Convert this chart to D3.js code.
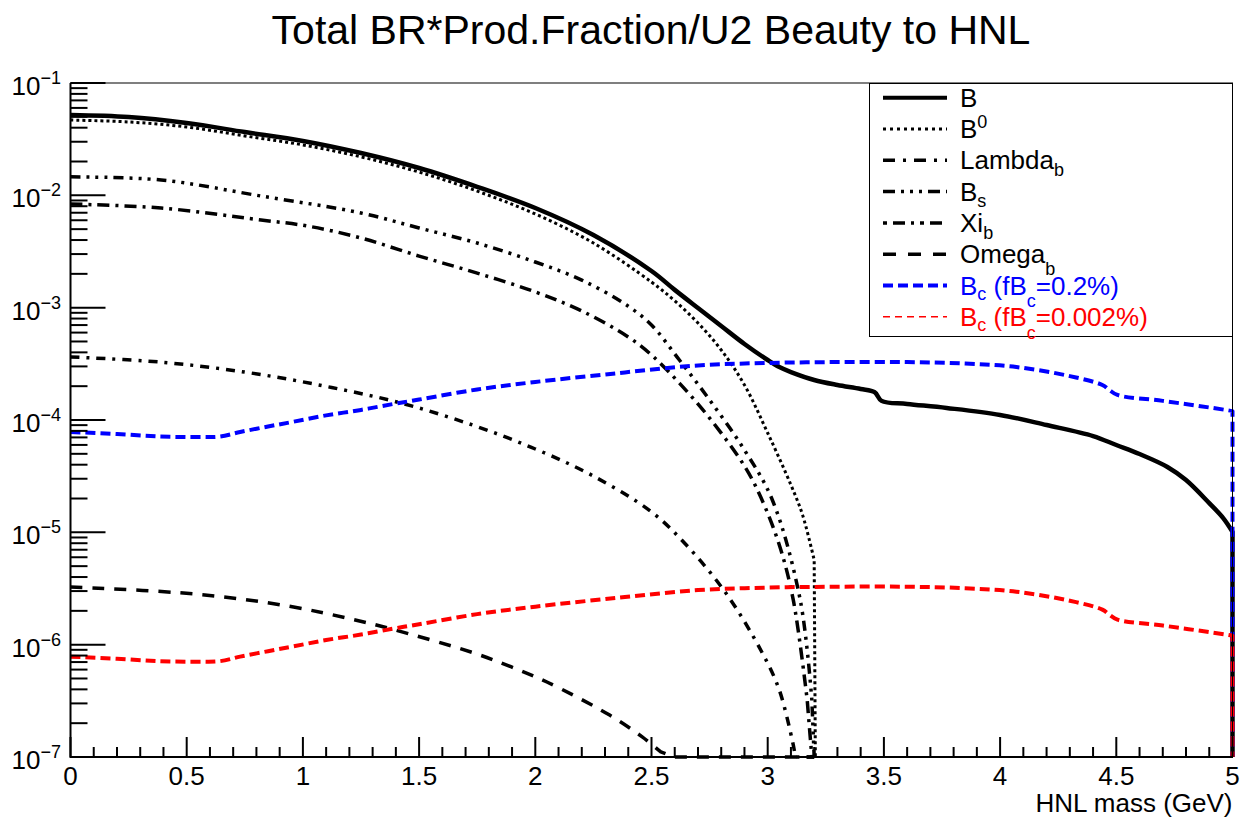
<!DOCTYPE html>
<html>
<head>
<meta charset="utf-8">
<script src="https://cdn.jsdelivr.net/npm/d3@7"></script>
<style>
  body { margin: 0; background: #fff; }
  svg { display: block; }
  text { font-family: "Liberation Sans", Arial, Helvetica, sans-serif; }
</style>
</head>
<body>
<svg id="chart" width="1254" height="823"></svg>
<script>
// HNL mass grid (GeV) and BR*production fraction/U^2 for each beauty hadron
const massB = [0, 0.25, 0.5, 0.75, 1.0, 1.25, 1.5, 1.75, 2.0, 2.25, 2.5, 2.6, 2.7, 2.8, 2.9, 3.0, 3.05, 3.1, 3.2, 3.3, 3.4, 3.46, 3.49, 3.6, 3.77, 4.0, 4.2, 4.4, 4.5, 4.6, 4.72, 4.8, 4.9, 4.96, 5.0, 5.0];
const brB   = [5.19e-2, 4.98e-2, 4.40e-2, 3.66e-2, 3.05e-2, 2.38e-2, 1.75e-2, 1.19e-2, 7.71e-3, 4.43e-3, 2.12e-3, 1.44e-3, 9.93e-4, 6.87e-4, 4.75e-4, 3.42e-4, 2.96e-4, 2.67e-4, 2.27e-4, 2.05e-4, 1.89e-4, 1.77e-4, 1.48e-4, 1.39e-4, 1.28e-4, 1.11e-4, 9.02e-5, 7.20e-5, 5.99e-5, 4.98e-5, 3.82e-5, 2.92e-5, 1.82e-5, 1.34e-5, 1.01e-5, 1e-9];

const massB0 = [0, 0.25, 0.5, 0.75, 1.0, 1.25, 1.5, 1.75, 2.0, 2.25, 2.5, 2.6, 2.7, 2.8, 2.9, 3.0, 3.1, 3.15, 3.2, 3.205];
const brB0   = [4.68e-2, 4.50e-2, 4.06e-2, 3.38e-2, 2.81e-2, 2.20e-2, 1.61e-2, 1.09e-2, 6.82e-3, 3.76e-3, 1.69e-3, 1.15e-3, 7.30e-4, 4.20e-4, 2.05e-4, 7.66e-5, 2.64e-5, 1.43e-5, 5.67e-6, 1e-9];

const massLambdab = [0, 0.39, 0.82, 1.02, 1.25, 1.5, 1.75, 2.0, 2.2, 2.4, 2.5, 2.62, 2.75, 2.9, 2.97, 3.05, 3.11, 3.17, 3.19];
const brLambdab   = [8.37e-3, 7.71e-3, 6.03e-3, 5.33e-3, 4.17e-3, 2.88e-3, 2.03e-3, 1.38e-3, 9.34e-4, 5.48e-4, 3.79e-4, 2.13e-4, 1.04e-4, 3.89e-5, 2.06e-5, 7.71e-6, 2.50e-6, 3.21e-7, 1e-9];

const massBs = [0, 0.39, 0.82, 1.25, 1.5, 1.75, 2.0, 2.2, 2.4, 2.5, 2.62, 2.75, 2.9, 3.02, 3.14, 3.19, 3.2];
const brBs   = [1.46e-2, 1.37e-2, 9.86e-3, 6.96e-3, 5.12e-3, 3.76e-3, 2.55e-3, 1.76e-3, 1.03e-3, 7.01e-4, 3.42e-4, 1.51e-4, 5.40e-5, 1.94e-5, 2.50e-6, 3.21e-7, 1e-9];

const massXib = [0, 0.385, 0.75, 1.09, 1.42, 1.73, 2.0, 2.25, 2.5, 2.65, 2.82, 2.97, 3.05, 3.11, 3.12, 3.2];
const brXib   = [3.64e-4, 3.28e-4, 2.67e-4, 2.01e-4, 1.42e-4, 9.02e-5, 5.52e-5, 3.17e-5, 1.52e-5, 7.71e-6, 2.88e-6, 8.96e-7, 3.95e-7, 1.28e-7, 1e-9, 1e-9];

const massOmegab = [0, 0.54, 0.935, 1.213, 1.386, 1.732, 1.895, 2.05, 2.32, 2.46, 2.54, 2.6, 3.2];
const brOmegab   = [3.26e-6, 2.82e-6, 2.21e-6, 1.68e-6, 1.37e-6, 8.48e-7, 6.36e-7, 4.65e-7, 2.36e-7, 1.51e-7, 1.11e-7, 8e-8, 1e-9];

const massBc = [0, 0.2, 0.385, 0.55, 0.643, 0.73, 0.85, 0.96, 1.1, 1.25, 1.39, 1.5, 1.75, 2.0, 2.36, 2.7, 3.0, 3.3, 3.6, 3.85, 4.07, 4.3, 4.44, 4.47, 4.505, 4.7, 4.97, 5.0, 5.0];
const brBcHigh = [7.82e-5, 7.50e-5, 7.13e-5, 7.06e-5, 7.13e-5, 7.82e-5, 8.75e-5, 9.66e-5, 1.10e-4, 1.23e-4, 1.39e-4, 1.52e-4, 1.87e-4, 2.18e-4, 2.62e-4, 3.06e-4, 3.22e-4, 3.28e-4, 3.28e-4, 3.18e-4, 2.96e-4, 2.46e-4, 2.05e-4, 1.85e-4, 1.67e-4, 1.48e-4, 1.23e-4, 1.20e-4, 1e-9];
const brBcLow  = [7.82e-7, 7.50e-7, 7.13e-7, 7.06e-7, 7.13e-7, 7.82e-7, 8.75e-7, 9.66e-7, 1.10e-6, 1.23e-6, 1.39e-6, 1.52e-6, 1.87e-6, 2.18e-6, 2.62e-6, 3.06e-6, 3.22e-6, 3.28e-6, 3.28e-6, 3.18e-6, 2.96e-6, 2.46e-6, 2.05e-6, 1.85e-6, 1.67e-6, 1.48e-6, 1.23e-6, 1.20e-6, 1e-11];

// Axis ticks and labels
const xTickValues = [0, 0.5, 1, 1.5, 2, 2.5, 3, 3.5, 4, 4.5, 5];
const xTickLabels = ["0", "0.5", "1", "1.5", "2", "2.5", "3", "3.5", "4", "4.5", "5"];
const yDecadeExps = [-1, -2, -3, -4, -5, -6, -7];
const yExpLabels  = ["\u22121", "\u22122", "\u22123", "\u22124", "\u22125", "\u22126", "\u22127"];

const titleText = "Total BR*Prod.Fraction/U2 Beauty to HNL";
const xAxisTitle = "HNL mass (GeV)";

// Frame geometry
const L = 70.5, R = 1232.5, T = 83, B = 757;
const yMin = 1e-7, yMax = 1e-1;

const svg = d3.select("#chart");
const x = d3.scaleLinear().domain([0, 5]).range([L, R]);
const y = d3.scaleLog().domain([yMin, yMax]).range([B, T]).clamp(true);

svg.append("rect").attr("width", 1254).attr("height", 823).attr("fill", "#fff");

// Title
svg.append("text")
  .attr("x", 651).attr("y", 44)
  .attr("text-anchor", "middle")
  .attr("font-size", 41)
  .text(titleText);

// Curves
const series = [
  { m: massB,       v: brB,       color: "#000", w: 4.5, dash: null },
  { m: massB0,      v: brB0,      color: "#000", w: 3,   dash: "3 3" },
  { m: massLambdab, v: brLambdab, color: "#000", w: 3.5, dash: "12 6 3 6" },
  { m: massBs,      v: brBs,      color: "#000", w: 3.5, dash: "10 6 3 6 3 6 3 6" },
  { m: massXib,     v: brXib,     color: "#000", w: 3.5, dash: "9 7 3 7" },
  { m: massOmegab,  v: brOmegab,  color: "#000", w: 3.5, dash: "12 10" },
  { m: massBc,      v: brBcHigh,  color: "#0000ff", w: 4, dash: "10 5" },
  { m: massBc,      v: brBcLow,   color: "#ff0000", w: 4, dash: "10 5" }
];

svg.append("clipPath").attr("id", "frameClip")
  .append("rect").attr("x", L - 2).attr("y", T).attr("width", R - L + 6).attr("height", B - T + 3);

const smooth = d3.line()
  .x(d => x(d[0]))
  .y(d => y(d[1]))
  .curve(d3.curveCatmullRom.alpha(0.5));

// Smooth through the visible part; points under the axis floor are joined straight
function curvePath(pts) {
  let cut = pts.findIndex(p => p[1] < yMin);
  if (cut < 0) cut = pts.length;
  let d = smooth(pts.slice(0, cut));
  for (let i = cut; i < pts.length; i++) d += "L" + x(pts[i][0]) + "," + y(pts[i][1]);
  return d;
}

const plot = svg.append("g").attr("clip-path", "url(#frameClip)");
series.forEach(s => {
  plot.append("path")
    .attr("d", curvePath(s.m.map((m, i) => [m, s.v[i]])))
    .attr("fill", "none")
    .attr("stroke", s.color)
    .attr("stroke-width", s.w)
    .attr("stroke-dasharray", s.dash)
    .attr("stroke-linejoin", "round")
    .attr("stroke-linecap", "butt");
});

// Frame
svg.append("rect")
  .attr("x", L).attr("y", T).attr("width", R - L).attr("height", B - T)
  .attr("fill", "none").attr("stroke", "#000").attr("stroke-width", 1);

// Axis lines and ticks
const axes = svg.append("g").attr("stroke", "#000").attr("stroke-width", 2);
axes.append("line").attr("x1", L).attr("x2", R + 0.5).attr("y1", B).attr("y2", B);
axes.append("line").attr("x1", L).attr("x2", L).attr("y1", T).attr("y2", B + 1);

d3.range(0, 51).forEach(i => {
  const v = i / 10;
  const major = i % 5 === 0;
  axes.append("line")
    .attr("x1", x(v)).attr("x2", x(v))
    .attr("y1", B).attr("y2", B - (major ? 20 : 10));
});
svg.append("g").selectAll("text").data(xTickValues).join("text")
  .attr("x", d => x(d)).attr("y", 785)
  .attr("text-anchor", "middle").attr("font-size", 26)
  .text((d, i) => xTickLabels[i]);

svg.append("text")
  .attr("x", R).attr("y", 812)
  .attr("text-anchor", "end").attr("font-size", 26)
  .text(xAxisTitle);

yDecadeExps.forEach(e => {
  const yy = y(Math.pow(10, e));
  axes.append("line").attr("x1", L).attr("x2", L + 35).attr("y1", yy).attr("y2", yy);
  if (e > -7) {
    for (let k = 2; k <= 9; k++) {
      const ym = y(k * Math.pow(10, e - 1));
      axes.append("line").attr("x1", L).attr("x2", L + 17).attr("y1", ym).attr("y2", ym);
    }
  }
});

// Decade labels: "10" with a raised exponent, right-aligned as one chunk
yDecadeExps.forEach((e, i) => {
  const yy = y(Math.pow(10, e));
  const t = svg.append("text")
    .attr("x", 61).attr("y", yy + 12)
    .attr("text-anchor", "end").attr("font-size", 26);
  t.append("tspan").text("10");
  t.append("tspan").attr("font-size", 18).attr("dy", -11).text(yExpLabels[i]);
});

// Legend
const legendItems = [
  { parts: [["B", 0]], color: "#000", w: 4, dash: null },
  { parts: [["B", 0], ["0", -10]], color: "#000", w: 3, dash: "3 4" },
  { parts: [["Lambda", 0], ["b", 7]], color: "#000", w: 3.5, dash: "12 8 3 8" },
  { parts: [["B", 0], ["s", 6]], color: "#000", w: 3.5, dash: "12 6 3 6 3 6 3 6" },
  { parts: [["Xi", 0], ["b", 7]], color: "#000", w: 3.5, dash: "4 6 12 6 3 6" },
  { parts: [["Omega", 0], ["b", 12]], color: "#000", w: 3.5, dash: "13 12" },
  { parts: [["B", 0], ["c", 5], [" (fB", 0], ["c", 12], ["=0.2%)", 0]], color: "#0000ff", w: 4, dash: "10 5" },
  { parts: [["B", 0], ["c", 5], [" (fB", 0], ["c", 13], ["=0.002%)", 0]], color: "#ff0000", w: 1.5, dash: "7 5" }
];

const lg = svg.append("g");
lg.append("rect")
  .attr("x", 869.5).attr("y", 83.5).attr("width", 363).attr("height", 253)
  .attr("fill", "#fff").attr("stroke", "#000").attr("stroke-width", 1);

legendItems.forEach((it, i) => {
  const base = 106.7 + i * 31.3;
  lg.append("line")
    .attr("x1", 883).attr("x2", 947)
    .attr("y1", base - 9).attr("y2", base - 9)
    .attr("stroke", it.color).attr("stroke-width", it.w)
    .attr("stroke-dasharray", it.dash);
  const t = lg.append("text")
    .attr("x", 960).attr("y", base)
    .attr("font-size", 26).attr("fill", it.color);
  it.parts.forEach(([s, off]) => {
    const sp = t.append("tspan").attr("y", base + off).text(s);
    if (off !== 0) sp.attr("font-size", 18);
  });
});
</script>
</body>
</html>
